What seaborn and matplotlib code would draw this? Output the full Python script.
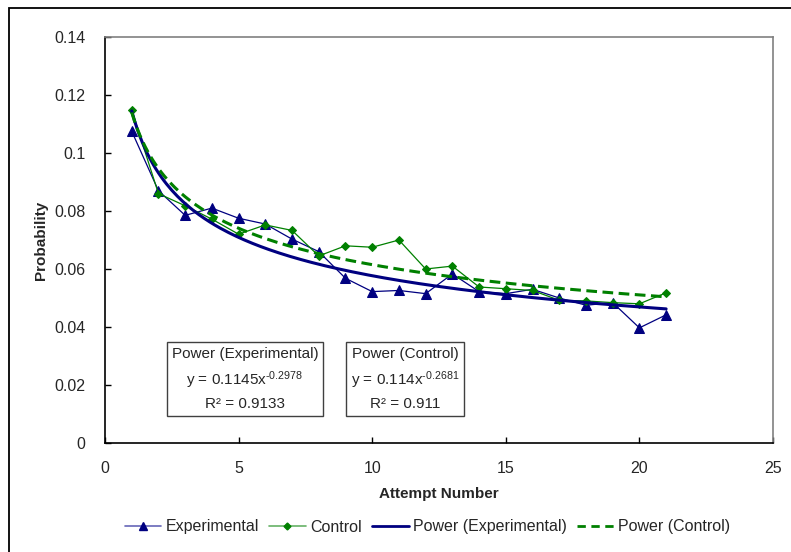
import matplotlib
matplotlib.use("Agg")
import matplotlib.pyplot as plt
from matplotlib.lines import Line2D
from matplotlib.patches import Rectangle
import numpy as np
import pandas as pd
import seaborn as sns

# values
attempts = list(range(1, 22))
experimental = [0.1075, 0.087, 0.0785, 0.081, 0.0775, 0.0755, 0.0703, 0.066, 0.0568, 0.0522, 0.0526,
                0.0515, 0.0583, 0.0522, 0.0515, 0.053, 0.050, 0.0475, 0.0484, 0.0397, 0.0442]
control = [0.1148, 0.086, 0.0818, 0.0772, 0.072, 0.0752, 0.0733, 0.0645, 0.068, 0.0675, 0.070,
           0.060, 0.061, 0.0538, 0.0532, 0.0526, 0.0492, 0.049, 0.0484, 0.048, 0.0518]

# power trendline coefficients as printed on the chart
exp_a, exp_b, exp_r2 = 0.1145, -0.2978, 0.9133
ctl_a, ctl_b, ctl_r2 = 0.114, -0.2681, 0.911

NAVY = "#000080"
GREEN = "#008000"

sns.set_style("white")
plt.rcParams['font.family'] = ['Liberation Sans', 'DejaVu Sans']
plt.rcParams['mathtext.fontset'] = 'custom'
plt.rcParams['mathtext.rm'] = 'Liberation Sans'
plt.rcParams['mathtext.it'] = 'Liberation Sans'
plt.rcParams['mathtext.default'] = 'regular'

df = pd.DataFrame({"Attempt": attempts, "Experimental": experimental, "Control": control})
xs = np.linspace(1, 21, 200)
trend = pd.DataFrame({"x": xs,
                      "exp": exp_a * xs ** exp_b,
                      "ctl": ctl_a * xs ** ctl_b})

W, H = 791, 552
fig = plt.figure(figsize=(W / 100, H / 100), dpi=100)
# outer chart border
fig.patches.append(Rectangle((9 / W, -0.05), 1.2, 1 - 8 / H + 0.05, transform=fig.transFigure,
                             fill=False, edgecolor="black", linewidth=1.3))
ax = fig.add_axes([105 / W, 1 - 443 / H, (773 - 105) / W, (443 - 37) / H])

sns.lineplot(data=df, x="Attempt", y="Experimental", ax=ax, color=NAVY, linewidth=0.9,
             marker="^", markersize=7, markeredgecolor=NAVY, markerfacecolor=NAVY, zorder=3)
sns.lineplot(data=df, x="Attempt", y="Control", ax=ax, color=GREEN, linewidth=0.9,
             marker="D", markersize=4.5, markeredgecolor=GREEN, markerfacecolor=GREEN, zorder=3)
sns.lineplot(data=trend, x="x", y="exp", ax=ax, color=NAVY, linewidth=2.2, zorder=4)
sns.lineplot(data=trend, x="x", y="ctl", ax=ax, color=GREEN, linewidth=2.2, linestyle=(0, (3.5, 1.8)), zorder=4)

ax.set_xlim(0, 25)
ax.set_ylim(0, 0.14)
ax.set_xticks([0, 5, 10, 15, 20, 25])
ax.set_yticks([0, 0.02, 0.04, 0.06, 0.08, 0.1, 0.12, 0.14])
ax.set_yticklabels(["0", "0.02", "0.04", "0.06", "0.08", "0.1", "0.12", "0.14"])
ax.tick_params(axis="both", direction="in", length=4, width=1, color="black",
               labelsize=11.5, left=True, bottom=True)
ax.tick_params(axis="x", pad=13)
ax.tick_params(axis="y", pad=14)
for s in ["left", "bottom"]:
    ax.spines[s].set_color("black")
    ax.spines[s].set_linewidth(1.2)
for s in ["top", "right"]:
    ax.spines[s].set_color("#808080")
    ax.spines[s].set_linewidth(1.2)

ax.set_xlabel("Attempt Number", fontsize=11, fontweight="bold")
ax.set_ylabel("Probability", fontsize=11, fontweight="bold")
ax.xaxis.set_label_coords(0.5, -(487 - 443) / 406)
ax.yaxis.set_label_coords(-(105 - 48) / 668, 0.5)

# trendline equation boxes
box = dict(boxstyle="square,pad=0.3", facecolor="white", edgecolor="#404040", linewidth=1)
ax.text(5.24, 0.0221,
        "Power (Experimental)\n" + rf"y = {exp_a}x$^{{\text{{{exp_b}}}}}$" + "\n" + f"R² = {exp_r2}",
        ha="center", va="center", fontsize=11, linespacing=1.55, bbox=box, zorder=5)
ax.text(11.23, 0.0221,
        "Power (Control)\n" + rf"y = {ctl_a}x$^{{\text{{{ctl_b}}}}}$" + "\n" + f"R² = {ctl_r2}",
        ha="center", va="center", fontsize=11, linespacing=1.55, bbox=box, zorder=5)

handles = [
    Line2D([], [], color="#6666b8", lw=1.2, marker="^", markersize=6, markerfacecolor=NAVY, markeredgecolor=NAVY),
    Line2D([], [], color="#66b266", lw=1.2, marker="D", markersize=3.5, markerfacecolor=GREEN, markeredgecolor=GREEN),
    Line2D([], [], color=NAVY, lw=2),
    Line2D([], [], color=GREEN, lw=2, linestyle=(0, (3, 2))),
]
labels = ["Experimental", "Control", "Power (Experimental)", "Power (Control)"]
fig.legend(handles, labels, loc="center", bbox_to_anchor=(427.5 / W, 1 - 527 / H), ncol=4, frameon=False,
           fontsize=11.5, handlelength=2.3, handletextpad=0.3, columnspacing=0.6)

fig.savefig("out.png", dpi=100)
